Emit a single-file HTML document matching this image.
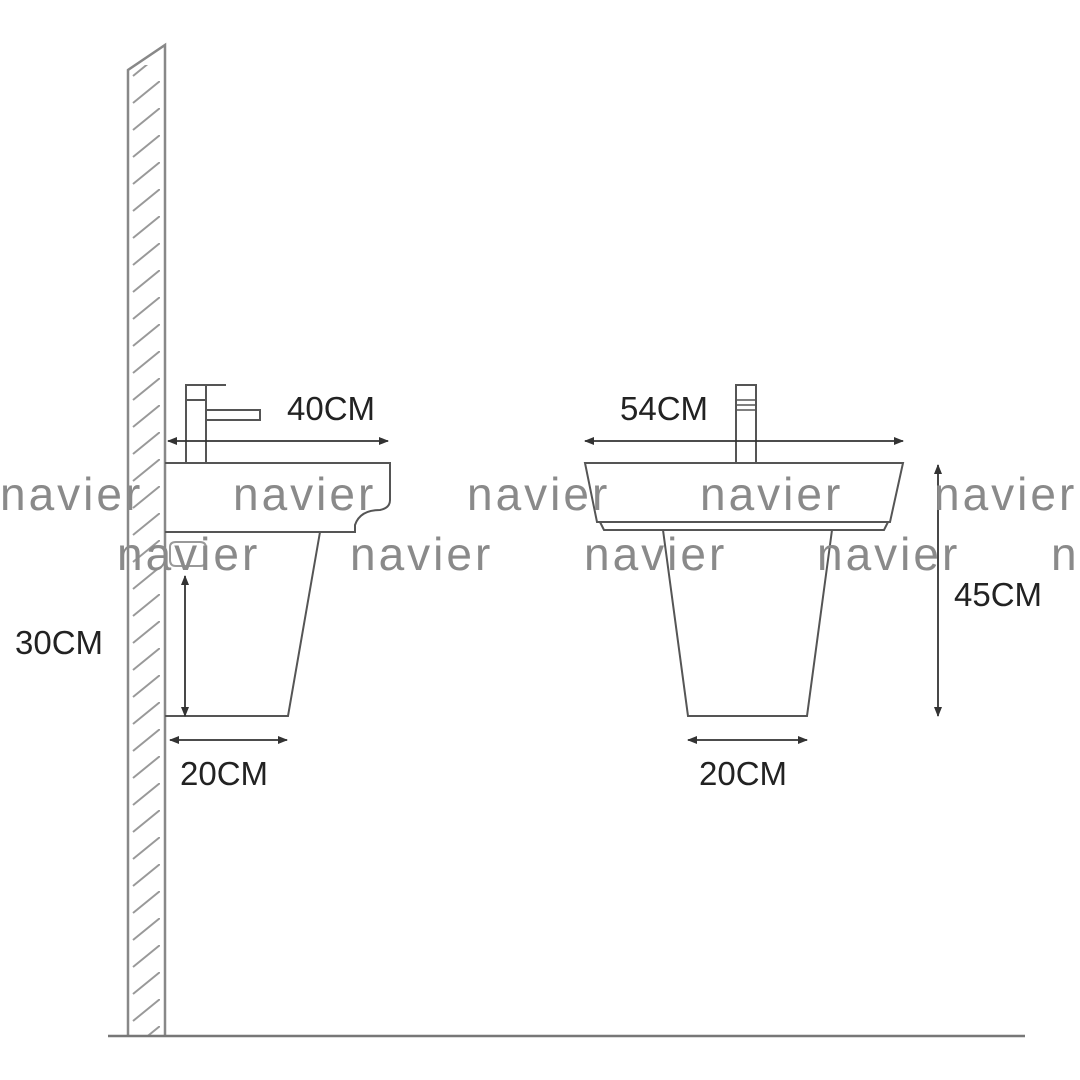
<!DOCTYPE html>
<html><head><meta charset="utf-8"><style>
html,body{margin:0;padding:0;background:#fff;}
svg{display:block}
.t{font-family:"Liberation Sans",sans-serif;font-size:33px;fill:#222;}
.w{font-family:"Liberation Sans",sans-serif;font-size:46px;fill:#8a8a8a;letter-spacing:3px;}
</style></head><body>
<svg width="1080" height="1080" viewBox="0 0 1080 1080" xmlns="http://www.w3.org/2000/svg">
<defs>
<pattern id="h" patternUnits="userSpaceOnUse" x="0" y="0" width="40" height="27">
<line x1="133" y1="22" x2="160" y2="0" stroke="#999" stroke-width="2" transform="translate(-120,0)"/>
</pattern>
<marker id="a" markerWidth="10" markerHeight="8" refX="9" refY="4" orient="auto-start-reverse" markerUnits="userSpaceOnUse">
<path d="M0,0 L10,4 L0,8 z" fill="#333"/></marker>
</defs>
<!-- wall -->
<rect x="128" y="65" width="37" height="970" fill="url(#h)"/>
<path d="M128,1035 L128,70 L165,45 L165,1035" fill="none" stroke="#888" stroke-width="2.5"/>
<line x1="108" y1="1036" x2="1025" y2="1036" stroke="#777" stroke-width="2.5"/>
<g fill="none" stroke="#555" stroke-width="2">
<!-- left sink -->
<path d="M165,463 L390,463 L390,500 Q390,508 380,510 Q360,510 355,525 L355,532 L165,532"/>
<path d="M320,532 L288,716 L165,716"/>
<path d="M186,463 L186,400 L206,400 L206,463"/>
<path d="M186,400 L186,385 L226,385 M206,400 L206,385"/>
<path d="M206,410 L260,410 L260,420 L206,420"/>
<path d="M170,547 Q170,542 176,542 L200,542 Q206,542 206,548 L206,560 Q206,566 200,566 L176,566 Q170,566 170,560 z" stroke="#999"/>
<!-- right sink -->
<path d="M585,463 L903,463 L890,522 L597,522 z"/>
<path d="M600,522 L604,530 L884,530 L888,522"/>
<path d="M663,530 L688,716 L807,716 L832,530"/>
<path d="M736,463 L736,385 L756,385 L756,463"/>
<path d="M736,400 L756,400 M736,405 L756,405 M736,410 L756,410" stroke-width="1.5"/>
</g>
<g stroke="#333" stroke-width="1.8" marker-start="url(#a)" marker-end="url(#a)">
<line x1="168" y1="441" x2="388" y2="441"/>
<line x1="185" y1="576" x2="185" y2="716"/>
<line x1="170" y1="740" x2="287" y2="740"/>
<line x1="585" y1="441" x2="903" y2="441"/>
<line x1="938" y1="465" x2="938" y2="716"/>
<line x1="688" y1="740" x2="807" y2="740"/>
</g>
<text class="t" x="287" y="420">40CM</text>
<text class="t" x="620" y="420">54CM</text>
<text class="t" x="15" y="654">30CM</text>
<text class="t" x="954" y="606">45CM</text>
<text class="t" x="180" y="785">20CM</text>
<text class="t" x="699" y="785">20CM</text>
<g class="w">
<text x="0" y="510">navier</text><text x="233" y="510">navier</text><text x="467" y="510">navier</text><text x="700" y="510">navier</text><text x="934" y="510">navier</text>
<text x="117" y="570">navier</text><text x="350" y="570">navier</text><text x="584" y="570">navier</text><text x="817" y="570">navier</text><text x="1051" y="570">navier</text>
</g>
</svg>
</body></html>
